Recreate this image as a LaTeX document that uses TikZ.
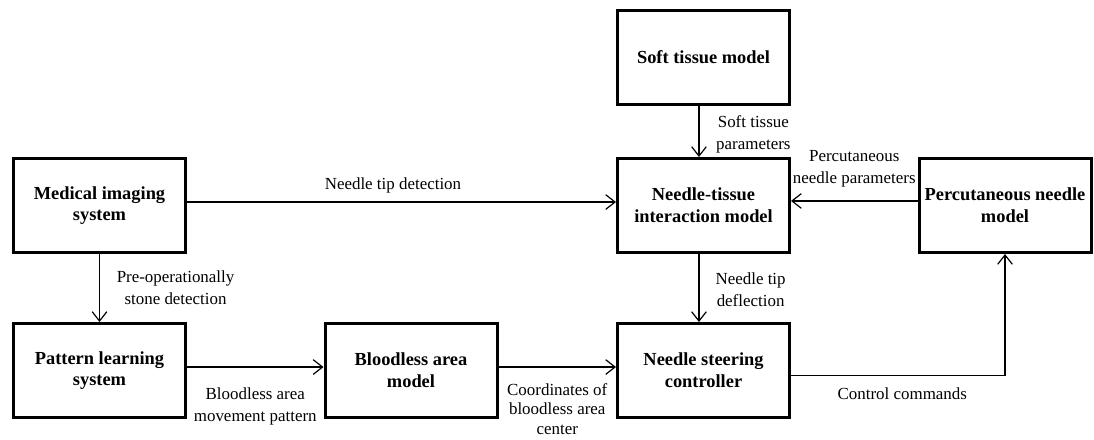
\documentclass[tikz,border=0pt]{standalone}
\usepackage{fontspec}
\setmainfont{Liberation Serif}
\usetikzlibrary{arrows.meta}

\begin{document}
\begin{tikzpicture}[x=0.75pt, y=-0.75pt, blk/.style={draw=black, line width=2.25pt, fill=white, minimum width=129pt, minimum height=70.5pt, align=center, inner sep=2pt, font=\fontsize{13.8}{16.3}\selectfont\bfseries}, lbl/.style={align=center, inner sep=2pt, font=\fontsize{12.7}{16.5}\selectfont}, arr/.style={-{Straight Barb[length=7pt, width=11pt]}, line width=0.9pt, draw=black}
]
  \useasboundingbox (0,0) rectangle (1094,439);
  \node[blk] (soft) at (703.5,57.5) {Soft tissue model};
  \node[blk] (nti) at (703.5,205.5) {Needle-tissue\\interaction model};
  \node[blk] (med) at (99.5,205.5) {Medical imaging\\system};
  \node[blk] (perc) at (1005,205.5) {Percutaneous needle\\model};
  \node[blk] (pat) at (99.5,370.5) {Pattern learning\\system};
  \node[blk] (blood) at (411,370.5) {Bloodless area\\model};
  \node[blk] (nsc) at (703.5,370.5) {Needle steering\\controller};
  \draw[arr] ([yshift=2.6pt]med.east) -- node[lbl, above=4pt, xshift=-6.4pt] {Needle tip detection} ([yshift=2.6pt]nti.west);
  \draw[arr] (med) -- node[lbl, right=10.5pt] {Pre-operationally\\stone detection} (pat);
  \draw[arr] ([yshift=2.6pt]pat.east) -- node[lbl, below=13pt] {Bloodless area\\movement pattern} ([yshift=2.6pt]blood.west);
  \draw[arr] ([yshift=2.6pt]blood.east) -- node[lbl, below=10pt, font=\fontsize{12.7}{14.5}\selectfont] {Coordinates of\\bloodless area\\center} ([yshift=2.6pt]nsc.west);
  \draw[arr] ([xshift=-3.4pt]soft.south) -- node[lbl, right=10.5pt, yshift=-2pt] {Soft tissue\\parameters} ([xshift=-3.4pt]nti.north);
  \draw[arr] ([xshift=-3.4pt]nti.south) -- node[lbl, right=10pt, yshift=-1.5pt] {Needle tip\\deflection} ([xshift=-3.4pt]nsc.north);
  \draw[arr] ([yshift=3.4pt]perc.west) -- node[lbl, above=8pt] {Percutaneous\\needle parameters} ([yshift=3.4pt]nti.east);
  \draw[arr] ([yshift=-3.75pt]nsc.east) -| node[lbl, below=7pt, pos=0.26] {Control commands} (perc.south);
\end{tikzpicture}
\end{document}
